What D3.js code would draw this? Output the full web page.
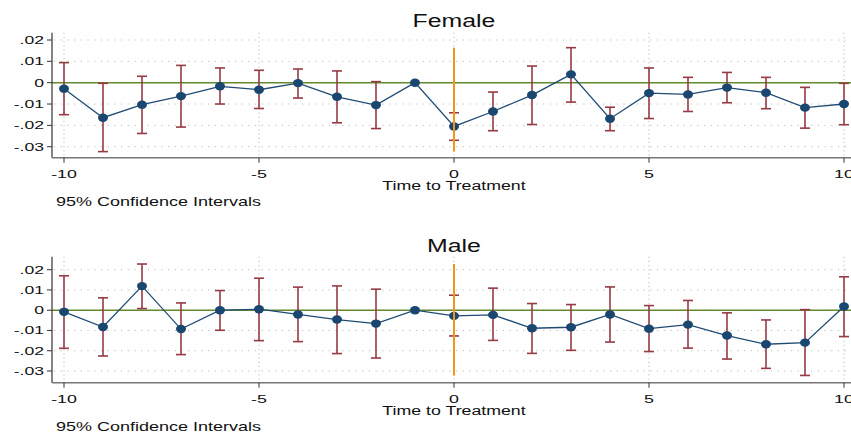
<!DOCTYPE html>
<html>
<head>
<meta charset="utf-8">
<script src="https://cdn.jsdelivr.net/npm/d3@7"></script>
<style>
  body { margin: 0; background: #fff; }
  text { font-family: "Liberation Sans", Arial, sans-serif; fill: #111; }
</style>
</head>
<body>
<svg id="chart" width="851" height="433"></svg>
<script>
const PERIODS = [-10, -9, -8, -7, -6, -5, -4, -3, -2, -1, 0, 1, 2, 3, 4, 5, 6, 7, 8, 9, 10];
const X_TICKS = [-10, -5, 0, 5, 10];
const Y_TICKS = [0.02, 0.01, 0, -0.01, -0.02, -0.03];
const Y_LABELS = [".02", ".01", "0", "-.01", "-.02", "-.03"];

const FEMALE_COEF = [-0.0028, -0.0164, -0.0103, -0.0063, -0.0017, -0.0033, -0.0002, -0.0066, -0.0105, 0, -0.0205, -0.0135, -0.0058, 0.0039, -0.0169, -0.0049, -0.0055, -0.0023, -0.0047, -0.0117, -0.0100];
const FEMALE_HI = [0.0094, -0.0003, 0.0030, 0.0081, 0.0069, 0.0058, 0.0064, 0.0055, 0.0005, null, -0.0141, -0.0044, 0.0078, 0.0164, -0.0115, 0.0069, 0.0025, 0.0048, 0.0025, -0.0022, -0.0003];
const FEMALE_LO = [-0.0150, -0.0323, -0.0238, -0.0208, -0.0100, -0.0121, -0.0072, -0.0188, -0.0215, null, -0.0270, -0.0225, -0.0196, -0.0091, -0.0225, -0.0168, -0.0135, -0.0094, -0.0122, -0.0213, -0.0197];

const MALE_COEF = [-0.0008, -0.0083, 0.0119, -0.0093, 0, 0.0005, -0.0021, -0.0046, -0.0066, 0, -0.0028, -0.0023, -0.0089, -0.0084, -0.0021, -0.0091, -0.0071, -0.0125, -0.0168, -0.0160, 0.0018];
const MALE_HI = [0.0170, 0.0061, 0.0228, 0.0036, 0.0097, 0.0158, 0.0114, 0.0120, 0.0104, null, 0.0074, 0.0109, 0.0033, 0.0028, 0.0115, 0.0023, 0.0048, -0.0013, -0.0048, 0.0003, 0.0165];
const MALE_LO = [-0.0188, -0.0226, 0.0008, -0.0219, -0.0099, -0.0150, -0.0155, -0.0214, -0.0236, null, -0.0127, -0.0149, -0.0213, -0.0198, -0.0157, -0.0204, -0.0187, -0.0241, -0.0287, -0.0322, -0.0130];

const SVG = d3.select("#chart");
const LEFT = 52;
const RIGHT = 851;

const SCALE_X = d3.scaleLinear().domain([-10, 10]).range([64, 844]);

// text in the source is stretched sideways
function stretchText(g, x, y, str, size, sx, anchor) {
  return g.append("text")
    .attr("transform", `translate(${x},${y}) scale(${sx},1)`)
    .attr("font-size", size)
    .attr("text-anchor", anchor)
    .text(str);
}

function drawPanel(title, coef, lo, hi, o) {
  const g = SVG.append("g");
  const y = d3.scaleLinear().domain([-0.03, 0.02]).range([o.yLow, o.yHigh]);
  const data = PERIODS.map((p, i) => ({ p: p, c: coef[i], lo: lo[i], hi: hi[i] }));

  // grid
  g.selectAll("line.hgrid").data(Y_TICKS).enter().append("line")
    .attr("x1", LEFT + 2).attr("x2", RIGHT)
    .attr("y1", d => y(d)).attr("y2", d => y(d))
    .attr("stroke", "#bbb").attr("stroke-width", 1)
    .attr("stroke-dasharray", "1.2,5.5");
  g.selectAll("line.vgrid").data(X_TICKS).enter().append("line")
    .attr("x1", d => SCALE_X(d)).attr("x2", d => SCALE_X(d))
    .attr("y1", o.top).attr("y2", o.bottom)
    .attr("stroke", "#bbb").attr("stroke-width", 1)
    .attr("stroke-dasharray", "1.2,3");

  // zero line
  g.append("line")
    .attr("x1", LEFT).attr("x2", RIGHT)
    .attr("y1", y(0)).attr("y2", y(0))
    .attr("stroke", "#65892f").attr("stroke-width", 1.6);

  // error bars
  const ci = data.filter(d => d.lo !== null);
  g.selectAll("line.ci").data(ci).enter().append("line")
    .attr("x1", d => SCALE_X(d.p)).attr("x2", d => SCALE_X(d.p))
    .attr("y1", d => y(d.hi)).attr("y2", d => y(d.lo))
    .attr("stroke", "#963a44").attr("stroke-width", 1.6);
  ["hi", "lo"].forEach(k => {
    g.selectAll("line.cap" + k).data(ci).enter().append("line")
      .attr("x1", d => SCALE_X(d.p) - 5).attr("x2", d => SCALE_X(d.p) + 5)
      .attr("y1", d => y(d[k])).attr("y2", d => y(d[k]))
      .attr("stroke", "#963a44").attr("stroke-width", 1.6);
  });

  // estimates
  g.append("path")
    .datum(data)
    .attr("fill", "none").attr("stroke", "#1f4b75").attr("stroke-width", 1.3)
    .attr("d", d3.line().x(d => SCALE_X(d.p)).y(d => y(d.c)));
  g.selectAll("ellipse").data(data).enter().append("ellipse")
    .attr("cx", d => SCALE_X(d.p)).attr("cy", d => y(d.c))
    .attr("rx", 5).attr("ry", 4.2).attr("fill", "#1a476f");

  // treatment line spans the data range
  const ext = d3.extent(ci.flatMap(d => [d.lo, d.hi]));
  g.append("line")
    .attr("x1", SCALE_X(0)).attr("x2", SCALE_X(0))
    .attr("y1", y(ext[1])).attr("y2", y(ext[0]))
    .attr("stroke", "#f0961a").attr("stroke-width", 2);

  // axes
  g.append("line")
    .attr("x1", LEFT).attr("x2", LEFT)
    .attr("y1", o.top).attr("y2", o.bottom)
    .attr("stroke", "#333").attr("stroke-width", 1.2);
  g.append("line")
    .attr("x1", LEFT).attr("x2", RIGHT)
    .attr("y1", o.bottom).attr("y2", o.bottom)
    .attr("stroke", "#777").attr("stroke-width", 1.6);

  g.selectAll("line.ytick").data(Y_TICKS).enter().append("line")
    .attr("x1", LEFT - 5).attr("x2", LEFT)
    .attr("y1", d => y(d)).attr("y2", d => y(d))
    .attr("stroke", "#333").attr("stroke-width", 1);
  Y_TICKS.forEach((t, i) => stretchText(g, 44, y(t) + 4, Y_LABELS[i], 11, 1.6, "end"));

  g.selectAll("line.xtick").data(X_TICKS).enter().append("line")
    .attr("x1", d => SCALE_X(d)).attr("x2", d => SCALE_X(d))
    .attr("y1", o.bottom).attr("y2", o.bottom + 5)
    .attr("stroke", "#333").attr("stroke-width", 1);
  X_TICKS.forEach(t => stretchText(g, SCALE_X(t), o.bottom + 20, String(t), 11.5, 1.55, "middle"));

  stretchText(g, SCALE_X(0), o.titleY, title, 17.5, 1.42, "middle");
  stretchText(g, SCALE_X(0), o.bottom + 32, "Time to Treatment", 12.5, 1.42, "middle");
  stretchText(g, 56, o.bottom + 48, "95% Confidence Intervals", 12, 1.5, "start");
}

drawPanel("Female", FEMALE_COEF, FEMALE_LO, FEMALE_HI,
  { top: 32.7, bottom: 157.7, yHigh: 40, yLow: 146.7, titleY: 26.7 });
drawPanel("Male", MALE_COEF, MALE_LO, MALE_HI,
  { top: 256.7, bottom: 382.7, yHigh: 269.7, yLow: 371, titleY: 251.7 });
</script>
</body>
</html>
